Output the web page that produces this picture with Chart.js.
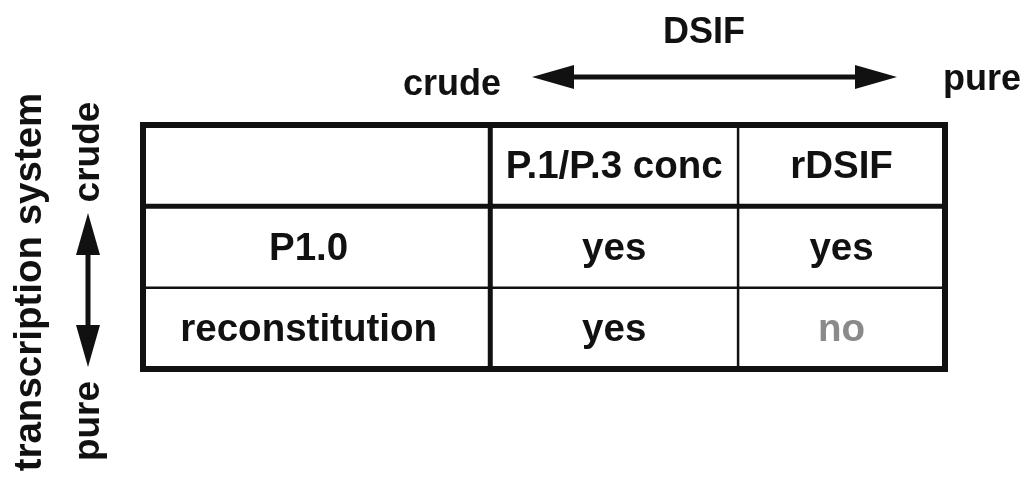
<!DOCTYPE html>
<html>
<head>
<meta charset="utf-8">
<script src="https://cdn.jsdelivr.net/npm/chart.js@4.4.1/dist/chart.umd.min.js"></script>
<style>
    html, body { margin: 0; padding: 0; background: #fff; }
    #wrap { width: 1031px; height: 479px; }
</style>
</head>
<body>
<div id="wrap"><canvas id="dsif-table"></canvas></div>
<script>
// Cabeceras de columna: preparación de DSIF
const dsifPreps = ['P.1/P.3 conc', 'rDSIF'];
// Filas: sistema de transcripción
const systems = ['P1.0', 'reconstitution'];
// Resultado por sistema, uno por preparación de DSIF
const p10Results = ['yes', 'yes'];
const reconResults = ['yes', 'no'];
const results = [p10Results, reconResults];
// Rótulos de los ejes
const dsifTitle = 'DSIF';
const systemTitle = 'transcription system';
const crudeWord = 'crude';
const pureWord = 'pure';

// Bordes de columna (fracción del ancho de la tabla)
const colEdges = [0, 0.433, 0.742, 1];

// Construir las celdas: fila 0 = cabecera, columna 0 = nombre del sistema
function buildCells() {
    const cells = [];
    const mid = c => (colEdges[c] + colEdges[c + 1]) / 2;
    dsifPreps.forEach((name, j) => cells.push({ x: mid(j + 1), y: 0.5, text: name, col: j + 1 }));
    systems.forEach((sys, i) => {
        cells.push({ x: mid(0), y: i + 1.5, text: sys, col: 0 });
        results[i].forEach((val, j) => cells.push({ x: mid(j + 1), y: i + 1.5, text: val, col: j + 1 }));
    });
    return cells;
}

const FAMILY = "'Liberation Sans', Arial, Helvetica, sans-serif";
const CELL_FONT = 'bold 38.5px ' + FAMILY;
const AXIS_FONT = 'bold 36px ' + FAMILY;
const INK = '#111';

// Dibuja la rejilla y el texto de las celdas
const tablePlugin = {
    id: 'tableGrid',
    afterDatasetsDraw(chart) {
        const ctx = chart.ctx;
        const xs = chart.scales.x;
        const ys = chart.scales.y;
        const meta = chart.getDatasetMeta(0);
        const cells = chart.data.datasets[0].data;

        ctx.save();
        ctx.font = CELL_FONT;
        ctx.textAlign = 'center';
        ctx.textBaseline = 'middle';
        meta.data.forEach((pt, i) => {
            const cell = cells[i];
            // la columna de nombres va un poco a la izquierda, como en el original
            const dx = cell.col === 0 ? -8 : 0;
            ctx.fillStyle = cell.text === 'no' ? '#8a8a8a' : INK;
            ctx.fillText(cell.text, pt.x + dx, pt.y + 2);
        });

        const L = xs.getPixelForValue(0), R = xs.getPixelForValue(1);
        const T = ys.getPixelForValue(0), B = ys.getPixelForValue(systems.length + 1);
        ctx.strokeStyle = INK;
        function line(x1, y1, x2, y2, w) {
            ctx.lineWidth = w;
            ctx.beginPath();
            ctx.moveTo(x1, y1);
            ctx.lineTo(x2, y2);
            ctx.stroke();
        }
        // líneas interiores
        for (let r = 1; r <= systems.length; r++) {
            const y = ys.getPixelForValue(r);
            line(L, y, R, y, r === 1 ? 5 : 2.5);
        }
        for (let c = 1; c < colEdges.length - 1; c++) {
            const x = xs.getPixelForValue(colEdges[c]);
            line(x, T, x, B, c === 1 ? 5 : 2.5);
        }
        // marco exterior
        ctx.lineWidth = 6;
        ctx.strokeRect(L, T, R - L, B - T);
        ctx.restore();
    }
};

// Flecha de doble punta
function doubleArrow(ctx, x1, y1, x2, y2) {
    const ang = Math.atan2(y2 - y1, x2 - x1);
    const head = 42, half = 12;
    const ux = Math.cos(ang), uy = Math.sin(ang);
    ctx.lineWidth = 5;
    ctx.beginPath();
    ctx.moveTo(x1 + ux * head * 0.8, y1 + uy * head * 0.8);
    ctx.lineTo(x2 - ux * head * 0.8, y2 - uy * head * 0.8);
    ctx.stroke();
    [[x1, y1, 1], [x2, y2, -1]].forEach(([x, y, s]) => {
        const bx = x + ux * head * s, by = y + uy * head * s;
        ctx.beginPath();
        ctx.moveTo(x, y);
        ctx.lineTo(bx - uy * half, by + ux * half);
        ctx.lineTo(bx + uy * half, by - ux * half);
        ctx.closePath();
        ctx.fill();
    });
}

// Rótulos y flechas fuera de la tabla
const axisPlugin = {
    id: 'axisWords',
    afterDraw(chart) {
        const ctx = chart.ctx;
        const a = chart.chartArea;
        ctx.save();
        ctx.font = AXIS_FONT;
        ctx.fillStyle = INK;
        ctx.strokeStyle = INK;
        ctx.textBaseline = 'alphabetic';

        // eje superior (DSIF)
        ctx.textAlign = 'center';
        ctx.fillText(dsifTitle, a.left + 561, a.top - 82);
        ctx.textAlign = 'right';
        ctx.fillText(crudeWord, a.left + 358, a.top - 30);
        ctx.textAlign = 'left';
        ctx.fillText(pureWord, a.right - 2, a.top - 35);
        doubleArrow(ctx, a.left + 389, a.top - 48, a.right - 48, a.top - 48);

        // eje izquierdo (sistema de transcripción)
        ctx.textAlign = 'center';
        ctx.textBaseline = 'middle';
        const vert = (txt, x, y) => {
            ctx.save();
            ctx.translate(x, y);
            ctx.rotate(-Math.PI / 2);
            ctx.fillText(txt, 0, 0);
            ctx.restore();
        };
        ctx.font = CELL_FONT;
        vert(systemTitle, a.left - 113, a.top + 157);
        ctx.font = 'bold 37px ' + FAMILY;
        vert(crudeWord, a.left - 54, a.top + 27);
        vert(pureWord, a.left - 54, a.bottom + 52);
        doubleArrow(ctx, a.left - 55, a.top + 88, a.left - 55, a.bottom - 2);
        ctx.restore();
    }
};

new Chart(document.getElementById('dsif-table'), {
    type: 'scatter',
    data: {
        datasets: [{
            data: buildCells(),
            pointRadius: 0,
            pointHoverRadius: 0
        }]
    },
    options: {
        responsive: true,
        maintainAspectRatio: false,
        animation: false,
        events: [],
        layout: { padding: { left: 143, right: 86, top: 125, bottom: 110 } },
        plugins: {
            legend: { display: false },
            tooltip: { enabled: false }
        },
        scales: {
            x: { type: 'linear', min: 0, max: 1, display: false },
            y: { type: 'linear', min: 0, max: systems.length + 1, reverse: true, display: false }
        }
    },
    plugins: [tablePlugin, axisPlugin]
});
</script>
</body>
</html>
